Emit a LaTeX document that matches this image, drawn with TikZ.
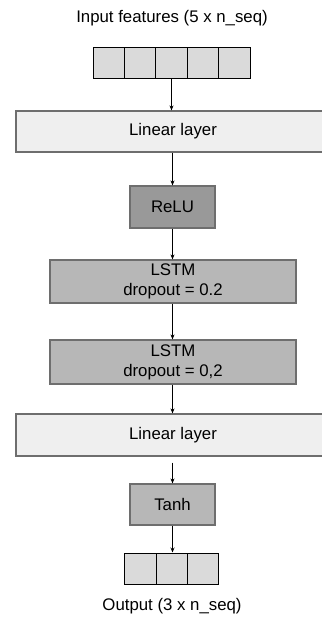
\documentclass[tikz,border=0pt]{standalone}
\usepackage{fontspec}
\setmainfont{Liberation Sans}
\usetikzlibrary{arrows.meta}

\definecolor{linfill}{RGB}{239,239,239}
\definecolor{relufill}{RGB}{153,153,153}
\definecolor{lstmfill}{RGB}{183,183,183}
\definecolor{cellfill}{RGB}{218,218,218}
\definecolor{boxline}{RGB}{110,110,110}
\tikzset{netsec/.style={x=1pt,y=-1pt,font=\fontsize{16.8}{20}\selectfont}}
\tikzset{layer/.style={draw=boxline,line width=1.2pt,inner sep=0pt,align=center},
         cell/.style={draw=black,line width=1pt,fill=cellfill,minimum width=31.4pt,minimum height=31pt,inner sep=0pt},
         flow/.style={-{Stealth[length=5pt,width=4pt]},line width=0.8pt}}

\begin{document}
\begin{tikzpicture}[netsec]
    \useasboundingbox (0,0) rectangle (321,617);
    \node (intitle) at (172,18) {Input features (5 x n\_seq)};
    \foreach \i in {0,...,4} \node[cell] (in\i) at ({93+31.4*(\i+0.5)},63) {};
    \node[layer,fill=linfill,minimum width=314pt,minimum height=41pt] (lin1) at (173,131.5) {Linear layer};
    \node[layer,fill=relufill,minimum width=85pt,minimum height=42pt] (relu) at (172.5,207) {ReLU};
    \node[layer,fill=lstmfill,minimum width=246pt,minimum height=43pt] (lstm1) at (173,281.5) {LSTM\\dropout = 0.2};
    \node[layer,fill=lstmfill,minimum width=246pt,minimum height=44pt] (lstm2) at (173,362) {LSTM\\dropout = 0,2};
    \node[layer,fill=linfill,minimum width=314pt,minimum height=42pt] (lin2) at (173,435) {Linear layer};
    \node[layer,fill=lstmfill,minimum width=85pt,minimum height=41pt] (tanh) at (172.5,504.5) {Tanh};
    \foreach \i in {0,1,2} \node[cell] (out\i) at ({125+31.3*(\i+0.5)},568.5) {};
    \node (outtitle) at (172,606) {Output (3 x n\_seq)};
    % forward pass, top to bottom
    \draw[flow] (in2.south) -- (lin1.north -| in2.south);
    \draw[flow] (lin1.south -| relu.north) -- (relu.north);
    \draw[flow] (relu.south) -- (lstm1.north -| relu.south);
    \draw[flow] (lstm1.south -| relu.south) -- (lstm2.north -| relu.south);
    \draw[flow] (lstm2.south -| relu.south) -- (lin2.north -| relu.south);
    \draw[flow,shorten <=6pt] (lin2.south -| tanh.north) -- (tanh.north);
    \draw[flow] (tanh.south) -- (out1.north -| tanh.south);
  \end{tikzpicture}
\end{document}
